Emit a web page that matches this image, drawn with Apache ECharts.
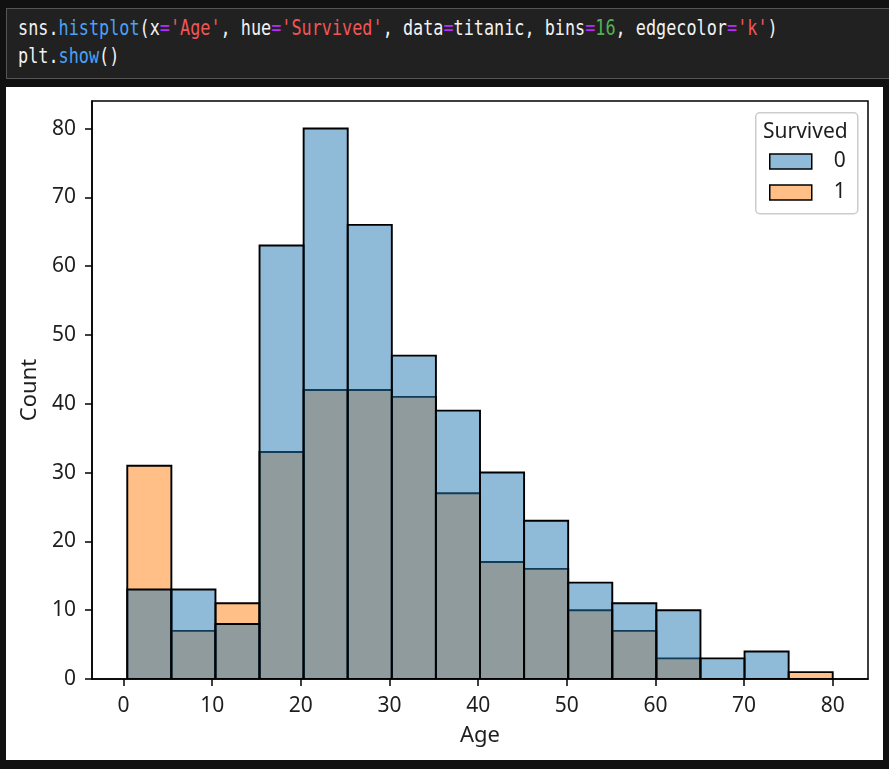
<!DOCTYPE html>
<html>
<head>
<meta charset="utf-8">
<script src="https://cdn.jsdelivr.net/npm/echarts@6/dist/echarts.min.js"></script>
<style>
  html, body { margin:0; padding:0; background:#111111; width:889px; height:769px; overflow:hidden; }
  #code { position:absolute; left:6px; top:8px; width:890px; height:71px; background:#212121; border:1px solid #555; box-sizing:border-box; }
  .line { position:absolute; left:11px; font-family:"DejaVu Sans Mono", monospace; font-size:21px; color:#f2f2f2; white-space:pre; transform:scaleX(0.801); transform-origin:0 0; }
  .fn { color:#4aa2f7; } .st { color:#f25555; } .op { color:#b52bff; } .nm { color:#55b055; }
  #chart { position:absolute; left:6px; top:87px; width:877px; height:673px; background:#fff; }
</style>
</head>
<body>
<div id="code">
  <div class="line" style="top:7px">sns.<span class="fn">histplot</span>(x<span class="op">=</span><span class="st">'Age'</span>, hue<span class="op">=</span><span class="st">'Survived'</span>, data<span class="op">=</span>titanic, bins<span class="op">=</span><span class="nm">16</span>, edgecolor<span class="op">=</span><span class="st">'k'</span>)</div>
  <div class="line" style="top:35px">plt.<span class="fn">show</span>()</div>
</div>
<div id="chart"></div>
<script>
// Bin edges for Age (16 bins from 0.42 to 80)
const binEdges = [0.42, 5.394, 10.368, 15.341, 20.315, 25.289, 30.263, 35.236, 40.21, 45.184, 50.158, 55.131, 60.105, 65.079, 70.053, 75.026, 80.0];
// Counts per bin
const survived0 = [13, 13, 8, 63, 80, 66, 47, 39, 30, 23, 14, 11, 10, 3, 4, 0];
const survived1 = [31, 7, 11, 33, 42, 42, 41, 27, 17, 16, 10, 7, 3, 0, 0, 1];
const xTicks = [0, 10, 20, 30, 40, 50, 60, 70, 80];
const yTicks = [0, 10, 20, 30, 40, 50, 60, 70, 80];
const hueLevels = ['0', '1'];

const FONT = '"Noto Sans", "DejaVu Sans", sans-serif';
const TXT = '#1e1e1e';

function toData(counts) {
  return counts.map((c, i) => [binEdges[i], binEdges[i + 1], c]);
}
function renderItem(params, api) {
  const p0 = api.coord([api.value(0), api.value(2)]);
  const p1 = api.coord([api.value(1), 0]);
  return {
    type: 'rect',
    shape: { x: p0[0], y: p0[1], width: p1[0] - p0[0], height: p1[1] - p0[1] },
    style: { fill: api.visual('color'), stroke: '#000', lineWidth: 1.9 }
  };
}

const chart = echarts.init(document.getElementById('chart'), null, { renderer: 'canvas' });
chart.setOption({
  backgroundColor: '#ffffff',
  animation: false,
  textStyle: { fontFamily: FONT },
  grid: { left: 86, top: 14, right: 15, bottom: 81, show: true, borderColor: '#000', borderWidth: 1.5, backgroundColor: 'transparent' },
  xAxis: {
    type: 'value', min: -3.559, max: 83.979,
    name: 'Age', nameLocation: 'middle', nameGap: 46,
    nameTextStyle: { fontSize: 22, color: TXT, fontFamily: FONT },
    splitLine: { show: false },
    axisLine: { show: true, onZero: false, lineStyle: { color: '#000', width: 1.5 } },
    axisTick: { show: true, length: 7, lineStyle: { color: '#000', width: 1.5 }, customValues: xTicks },
    axisLabel: { fontSize: 21, color: TXT, margin: 17, fontFamily: FONT, customValues: xTicks, showMinLabel: true, showMaxLabel: true }
  },
  yAxis: {
    type: 'value', min: 0, max: 84,
    name: 'Count', nameLocation: 'middle', nameGap: 47,
    nameTextStyle: { fontSize: 22, color: TXT, fontFamily: FONT },
    splitLine: { show: false },
    axisLine: { show: true, onZero: false, lineStyle: { color: '#000', width: 1.5 } },
    axisTick: { show: true, length: 7, lineStyle: { color: '#000', width: 1.5 }, customValues: yTicks },
    axisLabel: { fontSize: 21, color: TXT, margin: 16, fontFamily: FONT, customValues: yTicks }
  },
  legend: {
    data: hueLevels,
    orient: 'vertical',
    left: 763, top: 64, padding: 0,
    icon: 'rect',
    itemWidth: 42, itemHeight: 15, itemGap: 10,
    itemStyle: { borderColor: '#000', borderWidth: 1.5 },
    textStyle: { fontSize: 21, color: TXT, fontFamily: FONT, lineHeight: 15, padding: [0, 0, 0, 17] },
    selectedMode: false
  },
  graphic: [
    { type: 'rect', left: 749, top: 25, z: 3,
      shape: { width: 102, height: 101, r: 4 },
      style: { fill: 'rgba(255,255,255,0.8)', stroke: '#cccccc', lineWidth: 1.5 } },
    { type: 'text', left: 757, top: 35, z: 5,
      style: { text: 'Survived', fontSize: 21, fill: TXT, fontFamily: FONT } }
  ],
  series: [
    { name: '1', type: 'custom', renderItem, clip: true,
      itemStyle: { color: 'rgba(255,127,14,0.5)' },
      encode: { x: [0, 1], y: 2 }, data: toData(survived1) },
    { name: '0', type: 'custom', renderItem, clip: true,
      itemStyle: { color: 'rgba(31,119,180,0.5)' },
      encode: { x: [0, 1], y: 2 }, data: toData(survived0) }
  ]
});
</script>
</body>
</html>
